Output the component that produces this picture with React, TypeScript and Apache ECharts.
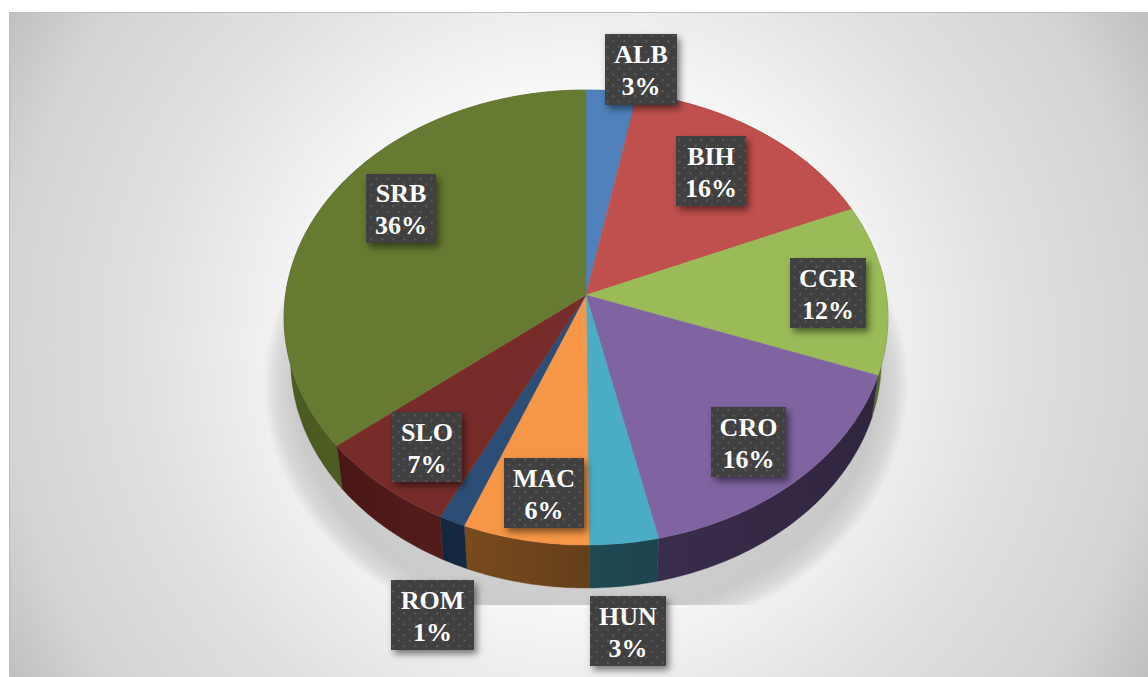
import React, { useEffect, useRef } from "react";
import * as echarts from "echarts";

const categories = ["ALB", "BIH", "CGR", "CRO", "HUN", "MAC", "ROM", "SLO", "SRB"];
const shares = [3.0, 15.5, 12.1, 15.9, 3.35, 6.15, 1.3, 6.9, 35.8];
const displayedPercents = [3, 16, 12, 16, 3, 6, 1, 7, 36];
const topColors = ["#4f81bd", "#c0504d", "#9bbb59", "#8064a2", "#4bacc6", "#f79646", "#2c4d75", "#772c2a", "#667a32"];
const sideColors = [
  ["#2f4d71", "#2a4566"],
  ["#73302e", "#672b29"],
  ["#5d7035", "#566832"],
  ["#3a2c4c", "#30253f"],
  ["#1f4a53", "#1c444e"],
  ["#7a4a1e", "#643f1a"],
  ["#12263e", "#15283f"],
  ["#4a1716", "#521c1a"],
  ["#4a5a22", "#556628"],
];
// Label box geometry: left, top, right, bottom
const labelBoxes = [
  [605, 34, 677, 105],
  [676, 136, 746, 206],
  [790, 258, 866, 328],
  [711, 407, 786, 477],
  [590, 596, 666, 666],
  [504, 458, 584, 528],
  [391, 580, 474, 650],
  [392, 412, 462, 482],
  [366, 174, 436, 243],
];

const CX = 586;
const APEX_Y = 295;
const A = 300.5;
const B = 225.3;
const P = 0.0989;
const DEPTH = 43;
const SIDE_SCALE = 0.978;
const SHADOW_SCALE = 260 / 323;

const cumulative: number[] = [];
shares.reduce((sum, v, i) => {
  cumulative[i] = sum;
  return sum + v;
}, 0);
const total = shares.reduce((a, b) => a + b, 0);

function rim(share: number): [number, number] {
  const th = (share / total) * Math.PI * 2;
  const u = Math.sin(th);
  const v = Math.cos(th);
  const d = 1 + P * v;
  return [CX + (A * u) / d, APEX_Y - (B * v) / d];
}
function lowerRim(share: number): [number, number] {
  const [x, y] = rim(share);
  return [CX + (x - CX) * SIDE_SCALE, y + DEPTH];
}
function arcPoints(from: number, to: number, fn: (s: number) => [number, number]) {
  const steps = Math.max(2, Math.ceil((to - from) * 4));
  const pts: [number, number][] = [];
  for (let i = 0; i <= steps; i++) pts.push(fn(from + ((to - from) * i) / steps));
  return pts;
}

const dotTile =
  "data:image/svg+xml;utf8," +
  encodeURIComponent(
    '<svg xmlns="http://www.w3.org/2000/svg" width="11" height="11"><rect width="11" height="11" fill="#404040"/><circle cx="2.7" cy="2.7" r="1.2" fill="#575757"/><circle cx="8.2" cy="8.2" r="1.2" fill="#575757"/></svg>'
  );

const seriesData = categories.map((name, i) => ({ name, value: [cumulative[i], shares[i], i] }));

function renderSide(_p: any, api: any) {
  const start = api.value(0);
  const i = api.value(2);
  const end = start + api.value(1);
  const pts = [...arcPoints(start, end, rim), ...arcPoints(start, end, lowerRim).reverse()];
  return {
    type: "polygon",
    shape: { points: pts },
    style: {
      fill: {
        type: "linear",
        x: 0,
        y: 0,
        x2: 1,
        y2: 0,
        colorStops: [
          { offset: 0, color: sideColors[i][0] },
          { offset: 1, color: sideColors[i][1] },
        ],
      },
      stroke: sideColors[i][0],
      lineWidth: 0.4,
    },
  };
}

function renderTop(_p: any, api: any) {
  const start = api.value(0);
  const i = api.value(2);
  const end = start + api.value(1);
  const pts = [[CX, APEX_Y], ...arcPoints(start, end, rim)];
  return {
    type: "polygon",
    shape: { points: pts },
    style: { fill: topColors[i], stroke: topColors[i], lineWidth: 0.4 },
  };
}

function renderLabel(_p: any, api: any) {
  const i = api.value(2);
  const [l, t, r, b] = labelBoxes[i];
  return {
    type: "group",
    children: [
      {
        type: "rect",
        shape: { x: l, y: t, width: r - l, height: b - t },
        style: {
          fill: { image: dotTile, repeat: "repeat", imageWidth: 11, imageHeight: 11 },
          shadowBlur: 7,
          shadowOffsetX: 3,
          shadowOffsetY: 4,
          shadowColor: "rgba(0,0,0,0.5)",
        },
      },
      {
        type: "text",
        style: {
          text: `${categories[i]}\n${displayedPercents[i]}%`,
          x: (l + r) / 2,
          y: (t + b) / 2 + 1,
          align: "center",
          verticalAlign: "middle",
          fill: "#ffffff",
          fontFamily: '"Liberation Serif"',
          fontWeight: "bold",
          fontSize: 26,
          lineHeight: 32,
        },
      },
    ],
  };
}

export default function App() {
  const ref = useRef<HTMLDivElement>(null);
  useEffect(() => {
    const chart = echarts.init(ref.current!, null, { renderer: "svg" });
    chart.setOption({
      animation: false,
      backgroundColor: "#ffffff",
      graphic: {
        elements: [
          {
            type: "rect",
            z: -2,
            silent: true,
            shape: { x: 9.5, y: 12.5, width: 1200, height: 700 },
            style: {
              stroke: "#bdbdbd",
              lineWidth: 1,
              fill: {
                type: "radial",
                global: true,
                x: 578,
                y: 345,
                r: 660,
                colorStops: [
                  { offset: 0, color: "#ffffff" },
                  { offset: 0.3, color: "#fdfdfd" },
                  { offset: 0.42, color: "#f5f5f5" },
                  { offset: 0.5, color: "#eeeeee" },
                  { offset: 0.66, color: "#e0e0e0" },
                  { offset: 0.87, color: "#d4d4d4" },
                  { offset: 1, color: "#c0c0c0" },
                ],
              },
            },
          },
          {
            type: "rect",
            z: -1,
            silent: true,
            scaleY: SHADOW_SCALE,
            shape: { x: 261, y: 125 / SHADOW_SCALE, width: 650, height: 480 / SHADOW_SCALE },
            style: {
              fill: {
                type: "radial",
                global: true,
                x: 586,
                y: 385 / SHADOW_SCALE,
                r: 323,
                colorStops: [
                  { offset: 0, color: "rgba(0,0,0,0.17)" },
                  { offset: 0.9, color: "rgba(0,0,0,0.17)" },
                  { offset: 0.96, color: "rgba(0,0,0,0.1)" },
                  { offset: 1, color: "rgba(0,0,0,0)" },
                ],
              },
            },
          },
        ],
      },
      series: [
        { type: "custom", coordinateSystem: "none", z: 2, silent: true, data: seriesData, renderItem: renderSide },
        { type: "custom", coordinateSystem: "none", z: 3, silent: true, data: seriesData, renderItem: renderTop },
        { type: "custom", coordinateSystem: "none", z: 4, silent: true, data: seriesData, renderItem: renderLabel },
      ],
    });
    return () => chart.dispose();
  }, []);
  return <div ref={ref} style={{ position: "fixed", left: 0, top: 0, width: 1148, height: 677 }} />;
}
